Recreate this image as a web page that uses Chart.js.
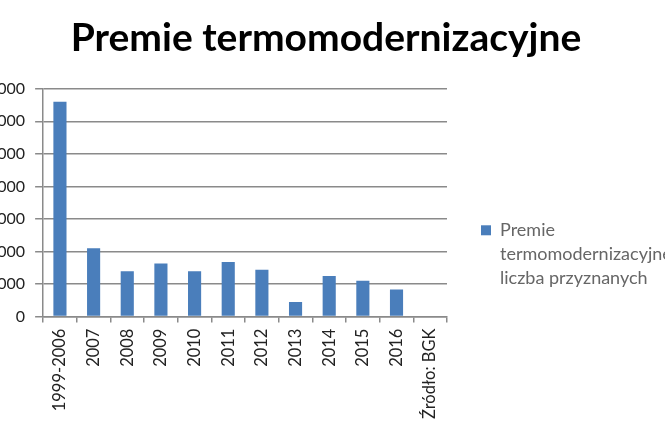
<!DOCTYPE html>
<html>
<head>
<meta charset="utf-8">
<script src="https://cdn.jsdelivr.net/npm/chart.js@4.4.1/dist/chart.umd.min.js"></script>
<style>
  html, body { margin: 0; padding: 0; background: #fff; overflow: hidden; }
  #holder { position: absolute; left: -22px; top: 0; width: 701px; height: 442px; }
</style>
</head>
<body>
<div id="holder"><canvas id="chart"></canvas></div>
<script>
// categories (last one is only the source note, no bar)
var labels = ["1999-2006", "2007", "2008", "2009", "2010", "2011", "2012", "2013", "2014", "2015", "2016", "Źródło: BGK"];

// number of premiums granted
var premiums = [6600, 2100, 1390, 1630, 1390, 1680, 1440, 450, 1250, 1100, 830, null];

var seriesName = ["Premie", "termomodernizacyjne -", "liczba przyznanych"];

var yTicks = { min: 0, max: 7000, step: 1000 };

var gridColor = "#8a8a8a";
var barColor = "#4a7ebb";

var ctx = document.getElementById("chart").getContext("2d");

new Chart(ctx, {
    type: "bar",
    data: {
        labels: labels,
        datasets: [{
            label: seriesName.join(" "),
            data: premiums,
            backgroundColor: barColor,
            borderWidth: 0,
            barPercentage: 0.39,
            categoryPercentage: 1
        }]
    },
    options: {
        responsive: true,
        maintainAspectRatio: false,
        animation: false,
        layout: { padding: { top: 15, bottom: 17, right: 5 } },
        plugins: {
            title: {
                display: true,
                text: "Premie termomodernizacyjne",
                color: "#000",
                font: { family: "Lato", size: 39, weight: "bold" },
                padding: { top: 0, bottom: 27 }
            },
            legend: {
                position: "right",
                maxWidth: 227,
                // empty title only pushes the entry down
                title: { display: true, text: " ", padding: { top: 54, bottom: 0 }, font: { size: 17 } },
                labels: {
                    color: "#222",
                    font: { family: "Lato", size: 18, lineHeight: 1.33 },
                    boxWidth: 10,
                    boxHeight: 10,
                    padding: 34,
                    generateLabels: function(chart) {
                        return [{
                            text: seriesName,
                            fillStyle: barColor,
                            strokeStyle: barColor,
                            lineWidth: 0,
                            datasetIndex: 0
                        }];
                    }
                }
            },
            tooltip: { enabled: false }
        },
        scales: {
            x: {
                offset: true,
                grid: {
                    offset: true,
                    drawOnChartArea: false,
                    drawTicks: true,
                    tickLength: 6,
                    color: gridColor,
                    lineWidth: 1.5
                },
                border: { color: gridColor, width: 1.5 },
                ticks: {
                    minRotation: 90,
                    maxRotation: 90,
                    autoSkip: false,
                    color: "#222",
                    font: { family: "Lato", size: 16.5 },
                    padding: 6
                }
            },
            y: {
                min: yTicks.min,
                max: yTicks.max,
                grid: {
                    color: gridColor,
                    lineWidth: 1.5,
                    tickLength: 8
                },
                border: { color: gridColor, width: 1.5 },
                ticks: {
                    stepSize: yTicks.step,
                    color: "#222",
                    font: { family: "Lato", size: 16 },
                    padding: 10,
                    callback: function(v) { return String(v); }
                }
            }
        }
    }
});
</script>
</body>
</html>
